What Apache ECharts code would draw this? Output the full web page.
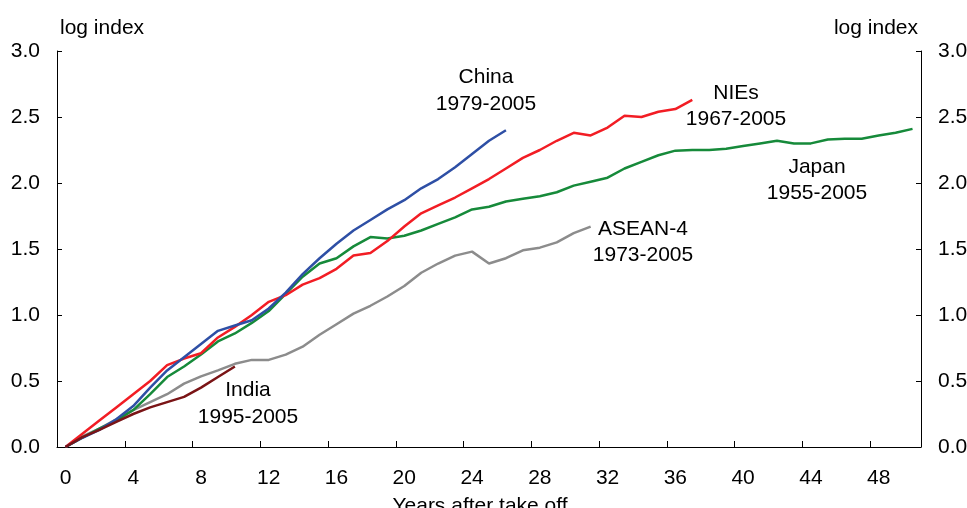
<!DOCTYPE html>
<html>
<head>
<meta charset="utf-8">
<script src="https://cdn.jsdelivr.net/npm/echarts@6/dist/echarts.min.js"></script>
<style>
  html, body { margin: 0; padding: 0; background: #fff; }
  #chart { width: 967px; height: 508px; }
</style>
</head>
<body>
<div id="chart"></div>
<script>
// Years after take off (category axis)
const years = [0, 1, 2, 3, 4, 5, 6, 7, 8, 9, 10, 11, 12, 13, 14, 15, 16, 17, 18, 19, 20,
  21, 22, 23, 24, 25, 26, 27, 28, 29, 30, 31, 32, 33, 34, 35, 36, 37, 38, 39, 40,
  41, 42, 43, 44, 45, 46, 47, 48, 49, 50];

// Log index of output per capita, by economy
const china = [0, 0.07, 0.13, 0.21, 0.31, 0.45, 0.58, 0.68, 0.78, 0.88, 0.92, 0.96, 1.05,
  1.17, 1.31, 1.43, 1.54, 1.64, 1.72, 1.80, 1.87, 1.96, 2.03, 2.12, 2.22, 2.32, 2.40];
const nies = [0, 0.10, 0.20, 0.30, 0.40, 0.50, 0.62, 0.67, 0.71, 0.83, 0.91, 1.00, 1.10,
  1.15, 1.23, 1.28, 1.35, 1.45, 1.47, 1.56, 1.67, 1.77, 1.83, 1.89, 1.96, 2.03, 2.11,
  2.19, 2.25, 2.32, 2.38, 2.36, 2.42, 2.51, 2.50, 2.54, 2.56, 2.63];
const japan = [0, 0.07, 0.14, 0.20, 0.28, 0.40, 0.53, 0.61, 0.70, 0.80, 0.86, 0.94, 1.03,
  1.16, 1.29, 1.39, 1.43, 1.52, 1.59, 1.58, 1.60, 1.64, 1.69, 1.74, 1.80, 1.82, 1.86,
  1.88, 1.90, 1.93, 1.98, 2.01, 2.04, 2.11, 2.16, 2.21, 2.245, 2.25, 2.25, 2.26, 2.28,
  2.30, 2.32, 2.30, 2.30, 2.33, 2.335, 2.335, 2.36, 2.38, 2.41];
const asean4 = [0, 0.08, 0.14, 0.21, 0.28, 0.34, 0.40, 0.48, 0.535, 0.58, 0.63, 0.66, 0.66,
  0.70, 0.76, 0.85, 0.93, 1.01, 1.07, 1.14, 1.22, 1.32, 1.39, 1.45, 1.48, 1.39, 1.43,
  1.49, 1.51, 1.55, 1.62, 1.67];
const india = [0, 0.075, 0.13, 0.19, 0.25, 0.30, 0.34, 0.38, 0.45, 0.53, 0.61];

// Y axis ticks
const yTicks = [0, 0.5, 1.0, 1.5, 2.0, 2.5, 3.0];

const FONT = 'Liberation Sans, Arial, sans-serif';
const FS = 21;

const chart = echarts.init(document.getElementById('chart'), null, { renderer: 'canvas' });

function lineSeries(name, data, color) {
  return {
    name: name,
    type: 'line',
    data: data,
    symbol: 'none',
    smooth: false,
    lineStyle: { color: color, width: 2.5 },
    z: 3
  };
}

function yAxisDef(position, nameAlign, namePad) {
  return {
    type: 'value',
    position: position,
    min: yTicks[0],
    max: yTicks[yTicks.length - 1],
    interval: 0.5,
    name: 'log index',
    nameLocation: 'end',
    nameGap: 12,
    nameTextStyle: { fontFamily: FONT, fontSize: FS, color: '#000', align: nameAlign, padding: namePad },
    axisLine: { show: true, lineStyle: { color: '#000', width: 1 } },
    axisTick: { show: true, inside: true, length: 5, lineStyle: { color: '#000' } },
    axisLabel: {
      fontFamily: FONT, fontSize: FS, color: '#000', margin: 17,
      formatter: v => v.toFixed(1)
    },
    splitLine: { show: false }
  };
}

function textLabel(str, x, y) {
  return {
    type: 'text',
    x: x, y: y,
    style: {
      text: str, fill: '#000',
      font: FS + 'px ' + FONT,
      textAlign: 'center', textVerticalAlign: 'middle'
    },
    z: 10
  };
}

chart.setOption({
  animation: false,
  backgroundColor: '#fff',
  grid: { left: 57, right: 46, top: 51, bottom: 61, containLabel: false, outerBoundsMode: 'none' },
  xAxis: {
    type: 'category',
    data: years,
    boundaryGap: true,
    name: 'Years after take off',
    nameLocation: 'middle',
    nameGap: 49,
    nameTextStyle: { fontFamily: FONT, fontSize: FS, color: '#000', padding: [0, 18, 0, 0] },
    axisLine: { show: true, lineStyle: { color: '#000', width: 1 } },
    axisTick: { show: true, inside: true, length: 6, interval: 3, alignWithLabel: false,
      lineStyle: { color: '#000' } },
    axisLabel: { interval: 3, fontFamily: FONT, fontSize: FS, color: '#000', margin: 21 },
    splitLine: { show: false }
  },
  yAxis: [yAxisDef('left', 'left', [0, 0, 0, 3]), yAxisDef('right', 'right', [0, 3, 0, 0])],
  series: [
    lineSeries('ASEAN-4', asean4, '#8c8c8c'),
    lineSeries('Japan', japan, '#168a3a'),
    lineSeries('NIEs', nies, '#f21d24'),
    lineSeries('China', china, '#2e4fa5'),
    lineSeries('India', india, '#7a1416')
  ],
  graphic: [
    textLabel('China', 486, 77),
    textLabel('1979-2005', 486, 104),
    textLabel('NIEs', 736, 93),
    textLabel('1967-2005', 736, 119),
    textLabel('Japan', 817, 167),
    textLabel('1955-2005', 817, 193),
    textLabel('ASEAN-4', 643, 229),
    textLabel('1973-2005', 643, 255),
    textLabel('India', 248, 390),
    textLabel('1995-2005', 248, 417)
  ]
});
</script>
</body>
</html>
